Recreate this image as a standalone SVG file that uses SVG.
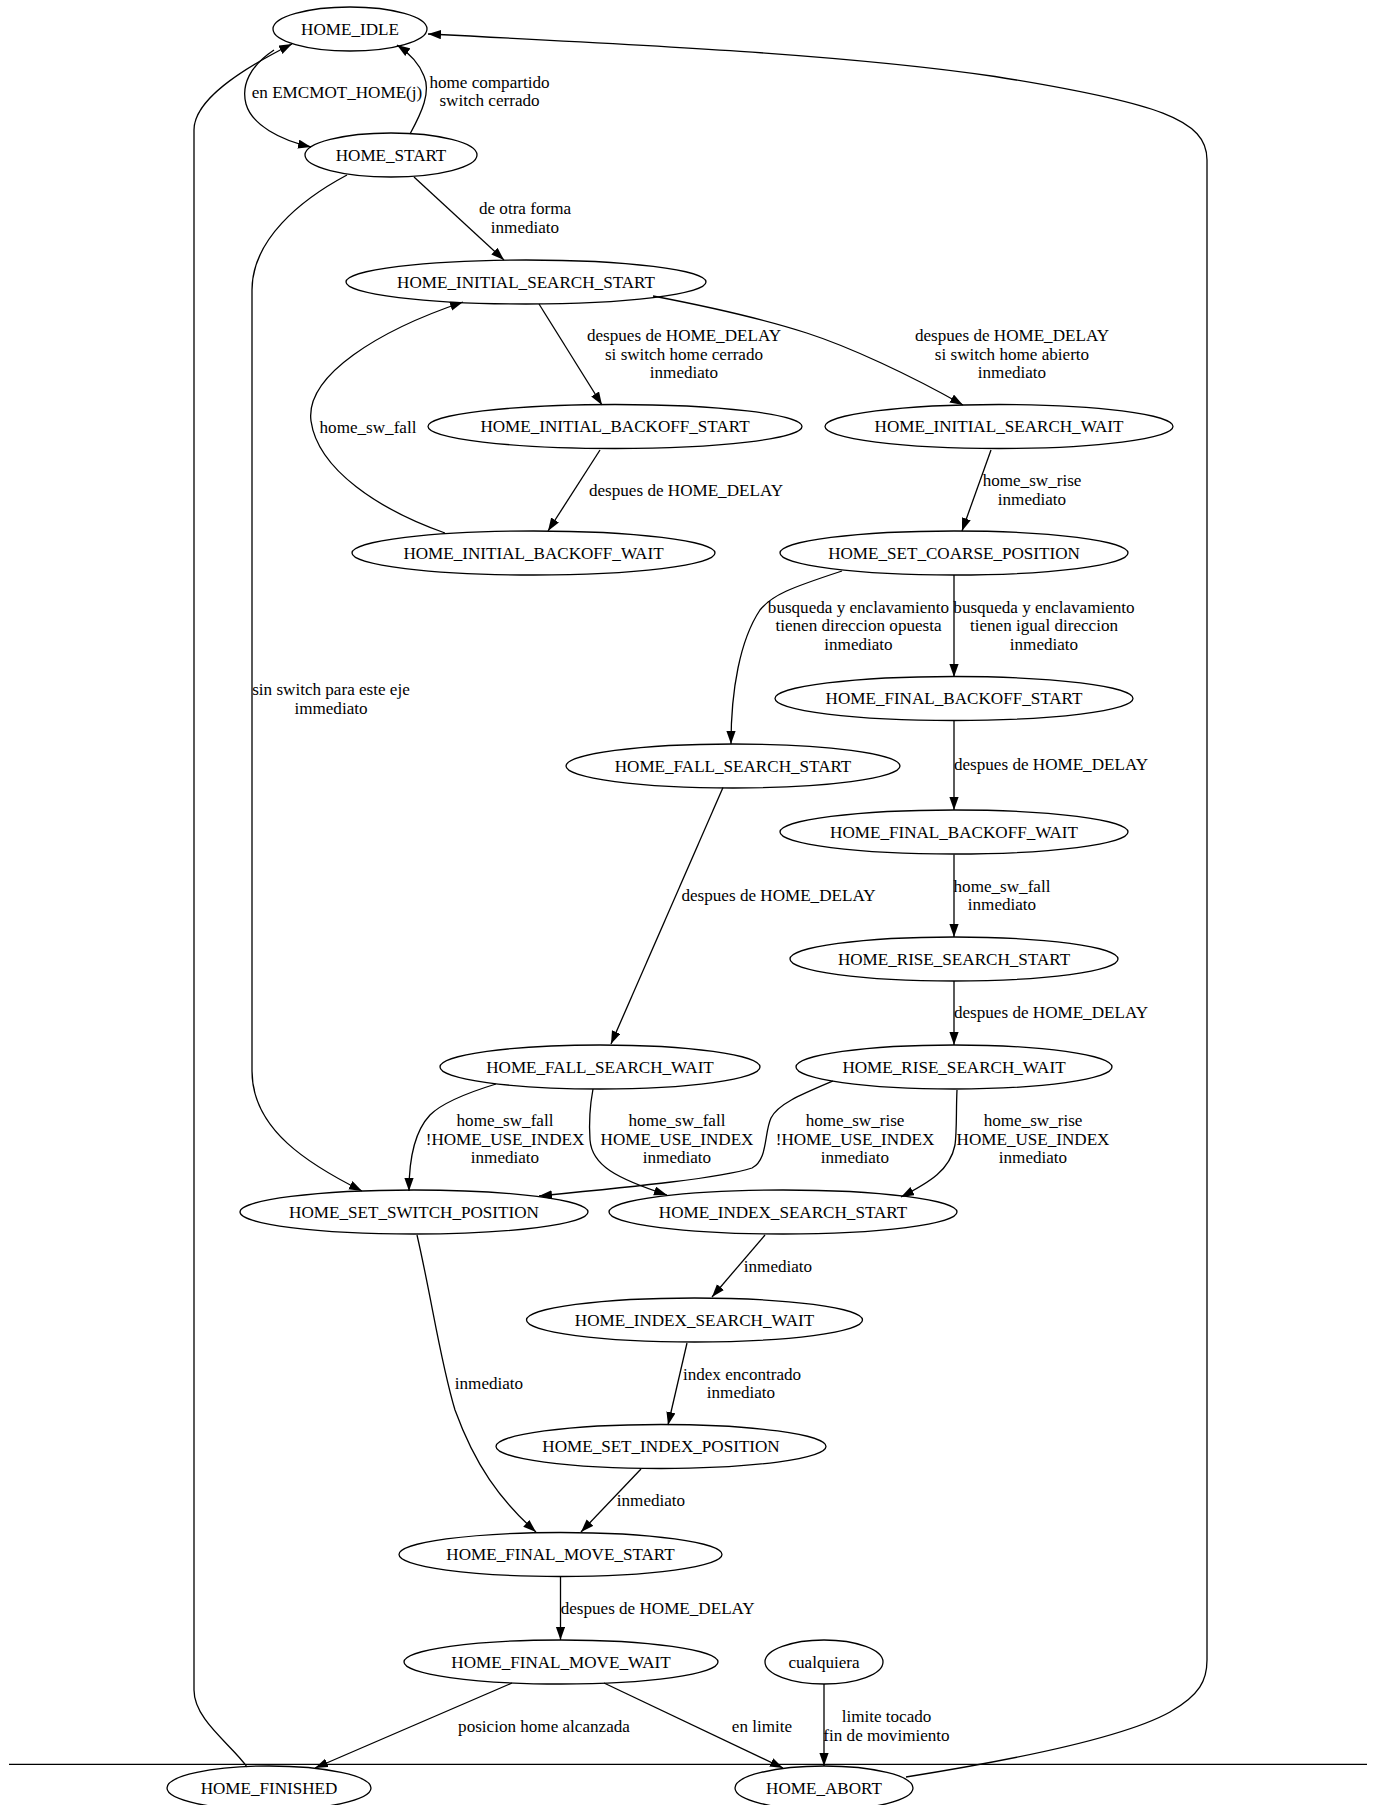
<svg xmlns="http://www.w3.org/2000/svg" width="1376" height="1805" viewBox="0 0 1376 1805">
<style>
.n ellipse{fill:none;stroke:#000;stroke-width:1.3}
text{font-family:"Liberation Serif","Times New Roman",serif;font-size:17.1px;fill:#000;text-anchor:middle}
.e path{fill:none;stroke:#000;stroke-width:1.3;marker-end:url(#ah)}
</style>
<defs>
<marker id="ah" markerUnits="userSpaceOnUse" markerWidth="14" markerHeight="10" refX="13" refY="4.6" orient="auto">
<path d="M0,0 L13,4.6 L0,9.2 z" fill="#000"/>
</marker>
</defs>
<rect x="0" y="0" width="1376" height="1805" fill="#fff"/>
<line x1="9" y1="1764.3" x2="1367" y2="1764.3" stroke="#000" stroke-width="1.3"/>

<g id="connectors">
<g class="e" id="e_idle_start"><path d="M274,50 C250,66 241,85 246,104 C252,125 280,140 311,147"/><text x="337" y="97.8">en EMCMOT_HOME(j)</text></g>
<g class="e" id="e_start_idle"><path d="M410,134 C422,112 431,92 424,76 C419,63 409,53 397,45"/><text x="489.5" y="87.8">home compartido</text><text x="489.5" y="106.4">switch cerrado</text></g>
<g class="e" id="e_start_iss"><path d="M414,177 L504,260"/><text x="525" y="214.4">de otra forma</text><text x="525" y="232.8">inmediato</text></g>
<g class="e" id="e_start_ssp"><path d="M347,175 C300,200 252,240 252,290 L252,1071 C252,1130 310,1165 362,1191"/><text x="331" y="694.8">sin switch para este eje</text><text x="331" y="713.8">immediato</text></g>
<g class="e" id="e_fin_idle"><path d="M247,1767 C232,1745 194,1720 194,1690 L194,130 C194,100 240,70 292,44"/></g>
<g class="e" id="e_abort_idle"><path d="M906,1777 C1000,1762 1120,1740 1170,1712 C1200,1695 1207,1680 1207,1660 L1207,160 C1207,120 1160,103 995,76.5 C850,55 650,45 428,34"/></g>
<g class="e" id="e_iss_ibs"><path d="M539,304 L602,405"/><text x="684" y="340.8">despues de HOME_DELAY</text><text x="684" y="359.8">si switch home cerrado</text><text x="684" y="377.8">inmediato</text></g>
<g class="e" id="e_iss_isw"><path d="M653,296 C700,305 760,318 806.7,333 C850,347 910,375 963,405"/><text x="1012" y="340.8">despues de HOME_DELAY</text><text x="1012" y="359.8">si switch home abierto</text><text x="1012" y="377.8">inmediato</text></g>
<g class="e" id="e_ibw_iss"><path d="M445,533 C380,510 318,470 311,421 C305,375 380,330 463,302"/><text x="368" y="432.8">home_sw_fall</text></g>
<g class="e" id="e_ibs_ibw"><path d="M600,450 L548,531"/><text x="686" y="495.8">despues de HOME_DELAY</text></g>
<g class="e" id="e_isw_scp"><path d="M991,450 L962,531"/><text x="1032" y="485.8">home_sw_rise</text><text x="1032" y="504.8">inmediato</text></g>
<g class="e" id="e_scp_fss"><path d="M842,571 C790,588 772,595 760,610 C740,640 731,690 731,744"/><text x="858.5" y="612.8">busqueda y enclavamiento</text><text x="858.5" y="631.3">tienen direccion opuesta</text><text x="858.5" y="649.8">inmediato</text></g>
<g class="e" id="e_scp_fbs"><path d="M954,575 L954,677"/><text x="1044" y="612.8">busqueda y enclavamiento</text><text x="1044" y="631.3">tienen igual direccion</text><text x="1044" y="649.8">inmediato</text></g>
<g class="e" id="e_fbs_fbw"><path d="M954,720.5 L954,810"/><text x="1051" y="770.4">despues de HOME_DELAY</text></g>
<g class="e" id="e_fbw_rss"><path d="M954,854.5 L954,937"/><text x="1002" y="891.8">home_sw_fall</text><text x="1002" y="910.3">inmediato</text></g>
<g class="e" id="e_rss_rsw"><path d="M954,981 L954,1045"/><text x="1051" y="1018.3">despues de HOME_DELAY</text></g>
<g class="e" id="e_fss_fsw"><path d="M723,787.5 L611,1044"/><text x="778.5" y="901.3">despues de HOME_DELAY</text></g>
<g class="e" id="e_fsw_ssp"><path d="M496,1084 C460,1095 440,1105 430,1115 C414,1132 409,1160 409,1191"/><text x="505" y="1126.3">home_sw_fall</text><text x="505" y="1144.8">!HOME_USE_INDEX</text><text x="505" y="1163.4">inmediato</text></g>
<g class="e" id="e_fsw_ists"><path d="M593,1089 C590,1105 589,1125 590,1140 C592,1165 615,1178 667,1195"/><text x="677" y="1126.3">home_sw_fall</text><text x="677" y="1144.8">HOME_USE_INDEX</text><text x="677" y="1163.4">inmediato</text></g>
<g class="e" id="e_rsw_ssp"><path d="M833,1081 C800,1095 778,1104 771,1118 C764,1133 768,1160 752,1168 C720,1178 640,1186 539,1196"/><text x="855" y="1126.3">home_sw_rise</text><text x="855" y="1144.8">!HOME_USE_INDEX</text><text x="855" y="1163.4">inmediato</text></g>
<g class="e" id="e_rsw_ists"><path d="M957,1090 C956,1110 957,1130 955,1145 C950,1170 930,1182 901,1197"/><text x="1033" y="1126.3">home_sw_rise</text><text x="1033" y="1144.8">HOME_USE_INDEX</text><text x="1033" y="1163.4">inmediato</text></g>
<g class="e" id="e_ssp_fms"><path d="M417,1235 C432,1300 440,1360 455,1410 C475,1465 500,1500 536,1532"/><text x="489" y="1388.5">inmediato</text></g>
<g class="e" id="e_ists_iswt"><path d="M765,1235 L712,1297"/><text x="778" y="1271.8">inmediato</text></g>
<g class="e" id="e_iswt_sip"><path d="M687,1343 L668,1425"/><text x="742" y="1379.8">index encontrado</text><text x="741" y="1397.8">inmediato</text></g>
<g class="e" id="e_sip_fms"><path d="M641,1469 L581,1532"/><text x="651" y="1505.8">inmediato</text></g>
<g class="e" id="e_fms_fmw"><path d="M560.5,1577 L560.5,1640"/><text x="657.7" y="1613.5">despues de HOME_DELAY</text></g>
<g class="e" id="e_fmw_fin"><path d="M512,1683 L315,1768"/><text x="544" y="1731.8">posicion home alcanzada</text></g>
<g class="e" id="e_fmw_abort"><path d="M604,1683 L783,1768"/><text x="762" y="1731.8">en limite</text></g>
<g class="e" id="e_any_abort"><path d="M824,1684 L824,1766"/><text x="886.5" y="1721.8">limite tocado</text><text x="886.5" y="1740.8">fin de movimiento</text></g>
</g>

<g id="HOME_IDLE" class="n"><ellipse cx="350" cy="29" rx="77" ry="22"/><text x="350" y="34.8">HOME_IDLE</text></g>
<g id="HOME_START" class="n"><ellipse cx="391" cy="155" rx="86" ry="22"/><text x="391" y="160.8">HOME_START</text></g>
<g id="HOME_INITIAL_SEARCH_START" class="n"><ellipse cx="526" cy="282" rx="180" ry="22"/><text x="526" y="287.8">HOME_INITIAL_SEARCH_START</text></g>
<g id="HOME_INITIAL_BACKOFF_START" class="n"><ellipse cx="615" cy="426.5" rx="187" ry="22"/><text x="615" y="432.3">HOME_INITIAL_BACKOFF_START</text></g>
<g id="HOME_INITIAL_SEARCH_WAIT" class="n"><ellipse cx="999" cy="426.5" rx="174" ry="22"/><text x="999" y="432.3">HOME_INITIAL_SEARCH_WAIT</text></g>
<g id="HOME_INITIAL_BACKOFF_WAIT" class="n"><ellipse cx="533.5" cy="553" rx="181.5" ry="22"/><text x="533.5" y="558.8">HOME_INITIAL_BACKOFF_WAIT</text></g>
<g id="HOME_SET_COARSE_POSITION" class="n"><ellipse cx="954" cy="553" rx="174" ry="22"/><text x="954" y="558.8">HOME_SET_COARSE_POSITION</text></g>
<g id="HOME_FINAL_BACKOFF_START" class="n"><ellipse cx="954" cy="698.5" rx="179" ry="22"/><text x="954" y="704.3">HOME_FINAL_BACKOFF_START</text></g>
<g id="HOME_FALL_SEARCH_START" class="n"><ellipse cx="733" cy="766" rx="167" ry="22"/><text x="733" y="771.8">HOME_FALL_SEARCH_START</text></g>
<g id="HOME_FINAL_BACKOFF_WAIT" class="n"><ellipse cx="954" cy="832" rx="174" ry="22"/><text x="954" y="837.8">HOME_FINAL_BACKOFF_WAIT</text></g>
<g id="HOME_RISE_SEARCH_START" class="n"><ellipse cx="954" cy="959" rx="164" ry="22"/><text x="954" y="964.8">HOME_RISE_SEARCH_START</text></g>
<g id="HOME_FALL_SEARCH_WAIT" class="n"><ellipse cx="600" cy="1067" rx="160" ry="22"/><text x="600" y="1072.8">HOME_FALL_SEARCH_WAIT</text></g>
<g id="HOME_RISE_SEARCH_WAIT" class="n"><ellipse cx="954" cy="1067" rx="158" ry="22"/><text x="954" y="1072.8">HOME_RISE_SEARCH_WAIT</text></g>
<g id="HOME_SET_SWITCH_POSITION" class="n"><ellipse cx="414" cy="1212" rx="174" ry="22"/><text x="414" y="1217.8">HOME_SET_SWITCH_POSITION</text></g>
<g id="HOME_INDEX_SEARCH_START" class="n"><ellipse cx="783" cy="1212" rx="174" ry="22"/><text x="783" y="1217.8">HOME_INDEX_SEARCH_START</text></g>
<g id="HOME_INDEX_SEARCH_WAIT" class="n"><ellipse cx="694.5" cy="1320" rx="168" ry="22"/><text x="694.5" y="1325.8">HOME_INDEX_SEARCH_WAIT</text></g>
<g id="HOME_SET_INDEX_POSITION" class="n"><ellipse cx="661" cy="1446.5" rx="165" ry="22"/><text x="661" y="1452.3">HOME_SET_INDEX_POSITION</text></g>
<g id="HOME_FINAL_MOVE_START" class="n"><ellipse cx="560.5" cy="1554.5" rx="161.5" ry="22"/><text x="560.5" y="1560.3">HOME_FINAL_MOVE_START</text></g>
<g id="HOME_FINAL_MOVE_WAIT" class="n"><ellipse cx="561" cy="1662" rx="157" ry="22"/><text x="561" y="1667.8">HOME_FINAL_MOVE_WAIT</text></g>
<g id="cualquiera" class="n"><ellipse cx="824" cy="1662" rx="59" ry="22"/><text x="824" y="1667.8">cualquiera</text></g>
<g id="HOME_FINISHED" class="n"><ellipse cx="269" cy="1788" rx="102" ry="22"/><text x="269" y="1793.8">HOME_FINISHED</text></g>
<g id="HOME_ABORT" class="n"><ellipse cx="824" cy="1788" rx="89" ry="22"/><text x="824" y="1793.8">HOME_ABORT</text></g>
</svg>
